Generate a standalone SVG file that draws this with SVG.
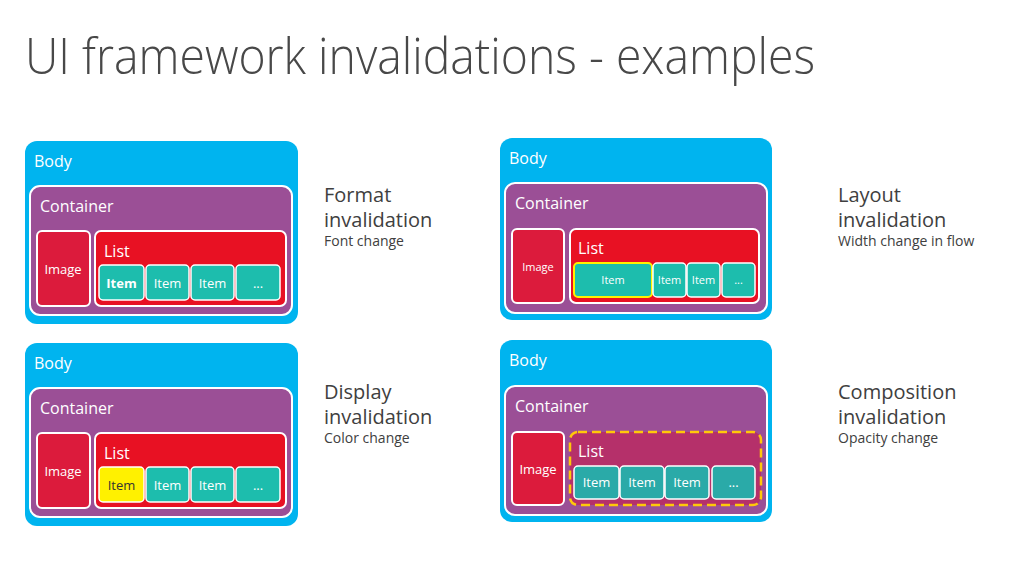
<svg xmlns="http://www.w3.org/2000/svg" width="1023" height="575" viewBox="0 0 1023 575">
<style>
text{font-family:"Open Sans","Noto Sans","Liberation Sans",sans-serif}
.title{font-size:50px;font-weight:300;fill:#484848}
.h{font-size:20px;fill:#404040}
.s{font-size:14px;fill:#404040}
.body{fill:#00B4EF}
.cont{fill:#9B4F96;stroke:#fff;stroke-width:2}
.img{fill:#DC1B3C;stroke:#fff;stroke-width:2}
.list{fill:#E81123;stroke:#fff;stroke-width:2}
.item{fill:#1DBDAD;stroke:#fff;stroke-width:1.5}
.lbl{font-size:16px;fill:#fff}
.il{font-size:13px;fill:#fff;text-anchor:middle}
.sm{font-size:11px;fill:#fff;text-anchor:middle}
</style>
<rect width="1023" height="575" fill="#fff"/>
<text class="title" x="25" y="74" textLength="790" lengthAdjust="spacingAndGlyphs">UI framework invalidations - examples</text>

<g id="format">
<rect class="body" x="25" y="141" width="273" height="183" rx="12"/>
<text class="lbl" x="34" y="167">Body</text>
<rect class="cont" x="30" y="186" width="262" height="129" rx="10"/>
<text class="lbl" x="40" y="212">Container</text>
<rect class="img" x="37" y="231" width="53" height="75" rx="5"/>
<text class="il" x="63" y="274">Image</text>
<rect class="list" x="95" y="231" width="191" height="75" rx="6"/>
<text class="lbl" x="104" y="257">List</text>
<rect class="item" x="99" y="265" width="45" height="35" rx="4"/>
<rect class="item" x="146" y="265" width="43" height="35" rx="4"/>
<rect class="item" x="191" y="265" width="43" height="35" rx="4"/>
<rect class="item" x="236" y="265" width="44" height="35" rx="4"/>
<text class="il" x="121.5" y="288" font-weight="bold">Item</text>
<text class="il" x="167.5" y="288">Item</text>
<text class="il" x="212.5" y="288">Item</text>
<text class="il" x="258" y="288">...</text>
</g>

<g id="display">
<rect class="body" x="25" y="343" width="273" height="183" rx="12"/>
<text class="lbl" x="34" y="369">Body</text>
<rect class="cont" x="30" y="388" width="262" height="129" rx="10"/>
<text class="lbl" x="40" y="414">Container</text>
<rect class="img" x="37" y="433" width="53" height="75" rx="5"/>
<text class="il" x="63" y="476">Image</text>
<rect class="list" x="95" y="433" width="191" height="75" rx="6"/>
<text class="lbl" x="104" y="459">List</text>
<rect class="item" x="99" y="467" width="45" height="35" rx="4" style="fill:#FFF100"/>
<rect class="item" x="146" y="467" width="43" height="35" rx="4"/>
<rect class="item" x="191" y="467" width="43" height="35" rx="4"/>
<rect class="item" x="236" y="467" width="44" height="35" rx="4"/>
<text class="il" x="121.5" y="490" style="fill:#333">Item</text>
<text class="il" x="167.5" y="490">Item</text>
<text class="il" x="212.5" y="490">Item</text>
<text class="il" x="258" y="490">...</text>
</g>

<g id="layout">
<rect class="body" x="500" y="138" width="272" height="182" rx="12"/>
<text class="lbl" x="509" y="164">Body</text>
<rect class="cont" x="505" y="183" width="262" height="130" rx="10"/>
<text class="lbl" x="515" y="209">Container</text>
<rect class="img" x="512" y="229" width="52" height="74" rx="5"/>
<text class="sm" x="538" y="271">Image</text>
<rect class="list" x="570" y="229" width="189" height="74" rx="6"/>
<text class="lbl" x="578" y="254">List</text>
<rect class="item" x="574" y="263" width="78" height="34" rx="4" style="stroke:#FFF100;stroke-width:2"/>
<rect class="item" x="653" y="263" width="33" height="34" rx="4"/>
<rect class="item" x="687" y="263" width="33" height="34" rx="4"/>
<rect class="item" x="722" y="263" width="33" height="34" rx="4"/>
<text class="sm" x="613" y="284">Item</text>
<text class="sm" x="669.5" y="284">Item</text>
<text class="sm" x="703.5" y="284">Item</text>
<text class="sm" x="738.5" y="284">...</text>
</g>

<g id="composition">
<rect class="body" x="500" y="340" width="272" height="182" rx="12"/>
<text class="lbl" x="509" y="366">Body</text>
<rect class="cont" x="505" y="386" width="262" height="129" rx="10"/>
<text class="lbl" x="515" y="412">Container</text>
<rect class="img" x="512" y="432" width="52" height="73" rx="5"/>
<text class="il" x="538" y="474">Image</text>
<rect x="570" y="432" width="191" height="73" rx="8" fill="#B5306A" stroke="#FFC80A" stroke-width="2.5" stroke-dasharray="9 5"/>
<text class="lbl" x="578" y="457">List</text>
<rect class="item" x="574" y="466" width="45" height="33" rx="4" style="fill:#2AAAA8"/>
<rect class="item" x="620" y="466" width="44" height="33" rx="4" style="fill:#2AAAA8"/>
<rect class="item" x="665" y="466" width="44" height="33" rx="4" style="fill:#2AAAA8"/>
<rect class="item" x="712" y="466" width="43" height="33" rx="4" style="fill:#2AAAA8"/>
<text class="il" x="596.5" y="487">Item</text>
<text class="il" x="642" y="487">Item</text>
<text class="il" x="687" y="487">Item</text>
<text class="il" x="733.5" y="487">...</text>
</g>

<g id="labels">
<text class="h" x="324" y="202">Format</text>
<text class="h" x="324" y="227">invalidation</text>
<text class="s" x="324" y="246">Font change</text>
<text class="h" x="324" y="399">Display</text>
<text class="h" x="324" y="424">invalidation</text>
<text class="s" x="324" y="443">Color change</text>
<text class="h" x="838" y="202">Layout</text>
<text class="h" x="838" y="227">invalidation</text>
<text class="s" x="838" y="246">Width change in flow</text>
<text class="h" x="838" y="399">Composition</text>
<text class="h" x="838" y="424">invalidation</text>
<text class="s" x="838" y="443">Opacity change</text>
</g>
</svg>
